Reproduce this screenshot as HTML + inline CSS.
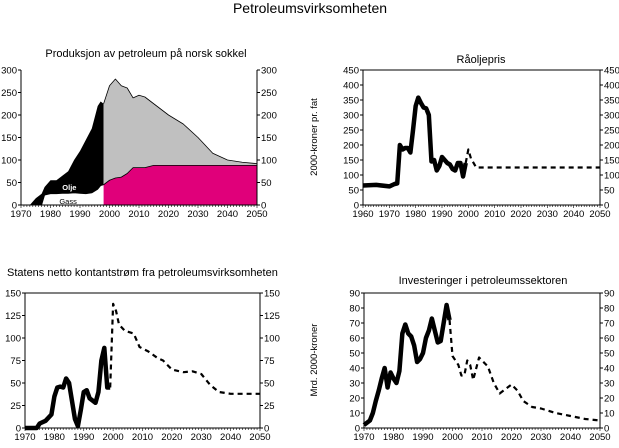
<!DOCTYPE html>
<html><head><meta charset="utf-8"><style>
body{margin:0;background:#fff;width:619px;height:443px;overflow:hidden;font-family:"Liberation Sans",sans-serif}
svg text{font-family:"Liberation Sans",sans-serif}
</style></head><body>
<svg id="s" width="619" height="443">
<text x="310" y="13" font-size="14" text-anchor="middle">Petroleumsvirksomheten</text>
<text x="146" y="57" font-size="11" text-anchor="middle">Produksjon av petroleum på norsk sokkel</text>
<text x="481" y="63" font-size="11" text-anchor="middle">Råoljepris</text>
<text x="7" y="276" font-size="11">Statens netto kontantstrøm fra petroleumsvirksomheten</text>
<text x="483" y="284" font-size="11" text-anchor="middle">Investeringer i petroleumssektoren</text>
<text transform="translate(317,137) rotate(-90)" font-size="9.5" text-anchor="middle">2000-kroner pr. fat</text>
<text transform="translate(317,360) rotate(-90)" font-size="9.5" text-anchor="middle">Mrd. 2000-kroner</text>
</svg>
<script>
// Chart 1 data
const prodHistYears=[1970,1973,1975,1977,1978,1980,1982,1984,1986,1988,1990,1992,1994,1996,1997,1998];
const prodHistTotal=[0,0,15,25,40,55,55,65,75,100,120,145,170,220,230,225];
const prodHistGas=[0,0,0,0,22,25,25,26,26,27,26,25,27,35,43,45];
const prodFutYears=[1998,2000,2002,2004,2006,2008,2010,2012,2015,2020,2025,2030,2035,2040,2045,2050];
const prodFutTotal=[225,265,280,265,260,238,244,240,225,200,180,150,115,100,95,92];
const prodFutGas=[45,55,60,62,70,83,83,83,88,88,88,88,88,88,88,88];
// Chart 2 data
const priceYears=[1960,1965,1970,1972,1973,1974,1975,1976,1977,1978,1979,1980,1981,1982,1983,1984,1985,1986,1987,1988,1989,1990,1991,1992,1993,1994,1995,1996,1997,1998,1999];
const priceVals=[65,67,62,70,72,200,185,190,190,175,250,330,358,340,325,322,300,145,150,115,130,160,150,140,135,120,115,140,140,95,140];
const priceFcYears=[2000,2001,2003,2050];
const priceFcVals=[185,155,125,125];
// Chart 3 data
const cashYears=[1970,1974,1975,1977,1979,1980,1981,1982,1983,1984,1985,1986,1987,1988,1989,1990,1991,1992,1994,1995,1996,1997,1998,1999];
const cashVals=[0,0,5,8,15,35,45,46,45,55,50,30,10,2,20,40,42,33,28,40,75,89,45,45];
const cashFcYears=[1999,2000,2001,2002,2004,2007,2009,2012,2015,2017,2020,2024,2027,2030,2033,2036,2040,2050];
const cashFcVals=[45,138,130,115,108,105,90,85,78,75,65,62,63,60,48,40,38,38];
// Chart 4 data
const invYears=[1970,1972,1973,1974,1975,1976,1977,1978,1979,1980,1981,1982,1983,1984,1985,1986,1987,1988,1989,1990,1991,1992,1993,1994,1995,1996,1997,1998,1999];
const invVals=[2,5,10,18,25,33,40,27,37,33,30,38,63,69,63,61,55,44,46,50,60,65,73,65,57,58,70,82,72];
const invFcYears=[1999,2000,2002,2003,2004,2005,2006,2007,2009,2011,2012,2014,2016,2020,2022,2024,2027,2030,2035,2040,2045,2050];
const invFcVals=[72,48,42,35,35,45,42,32,47,43,41,30,23,29,25,18,14,13,10,8,6,5];

const s=document.getElementById('s');const NS='http://www.w3.org/2000/svg';
function el(t,a,p){const e=document.createElementNS(NS,t);for(const k in a)e.setAttribute(k,a[k]);(p||s).appendChild(e);return e;}
function mk(x0,x1,y0,y1,L,R,T,B){return{x:v=>L+(v-x0)/(x1-x0)*(R-L),y:v=>B-(v-y0)/(y1-y0)*(B-T),L,R,T,B,x0,x1,y1};}
function axes(c,yStep,name,noTop){
 const g=el('g',{});
 
 
 if(noTop){el('polyline',{points:`${c.L},${c.T} ${c.L},${c.B} ${c.R},${c.B} ${c.R},${c.T}`,fill:'none',stroke:'#000'},g);}
 else el('rect',{x:c.L,y:c.T,width:c.R-c.L,height:c.B-c.T,fill:'none',stroke:'#000','stroke-width':1},g);
 for(let v=0;v<=c.y1;v+=yStep){const y=c.y(v);
  el('line',{x1:c.L-3,x2:c.L,y1:y,y2:y,stroke:'#000'},g);el('line',{x1:c.R,x2:c.R+3,y1:y,y2:y,stroke:'#000'},g);
  const t1=el('text',{x:c.L-4,y:y+3.5,'font-size':9.5,'text-anchor':'end'},g);t1.textContent=v;
  const t2=el('text',{x:c.R+4,y:y+3.5,'font-size':9.5},g);t2.textContent=v;}
 for(let yr=c.x0;yr<=c.x1;yr++){const x=c.x(yr);el('line',{x1:x,x2:x,y1:c.B,y2:c.B+(yr%10?2:3),stroke:'#000','stroke-width':0.6},g);
  if(yr%10==0){const t=el('text',{x:x,y:c.B+12,'font-size':9.5,'text-anchor':'middle'},g);t.textContent=yr;}}
}
function pts(c,xs,ys){return xs.map((v,i)=>c.x(v)+','+c.y(ys[i])).join(' ');}
function line(c,xs,ys,dash,w,name){const p=el('polyline',{points:pts(c,xs,ys),fill:'none',stroke:'#000','stroke-width':w,'stroke-dasharray':dash||'none','stroke-linejoin':'round'});
 
 }
function area(c,xs,top,bot,fill,name){const a=xs.map((v,i)=>c.x(v)+','+c.y(top[i]));const b=xs.map((v,i)=>c.x(v)+','+c.y(bot?bot[i]:0)).reverse();
 const p=el('polygon',{points:a.concat(b).join(' '),fill:fill,stroke:'none'});
 
 }

// Chart 1
const c1=mk(1970,2050,0,300,21,257,70,205);
area(c1,prodHistYears,prodHistTotal,prodHistGas,'#000','oil-historical-area');
area(c1,prodFutYears,prodFutTotal,prodFutGas,'#c0c0c0','oil-forecast-area');
area(c1,prodFutYears,prodFutGas,null,'#e0007a','gas-forecast-area');
line(c1,prodFutYears,prodFutTotal,null,0.8,'total-forecast-line');
line(c1,prodFutYears,prodFutGas,null,0.8,'gas-forecast-line');
line(c1,prodHistYears,prodHistGas,null,0.8,'gas-historical-line');
axes(c1,50,'production',true);
let t=el('text',{x:c1.x(1984),y:c1.y(33),'font-size':7.5,fill:'#fff','font-weight':'bold'});t.textContent='Olje';

t=el('text',{x:c1.x(1983),y:c1.y(2),'font-size':7.5});t.textContent='Gass';

// Chart 2
const c2=mk(1960,2050,0,450,363,600,70,205);
axes(c2,50,'oilprice');
line(c2,priceYears,priceVals,null,4.5,'oilprice-historical-line');
line(c2,[1999].concat(priceFcYears),[140].concat(priceFcVals),'5,4',2.2,'oilprice-forecast-line');
// Chart 3
const c3=mk(1970,2050,0,150,25,260,293,428);
axes(c3,25,'cashflow');
line(c3,cashYears,cashVals,null,4.5,'cashflow-historical-line');
line(c3,cashFcYears,cashFcVals,'5,4',2.2,'cashflow-forecast-line');
// Chart 4
const c4=mk(1970,2050,0,90,364,600,293,428);
axes(c4,10,'investment');
line(c4,invYears,invVals,null,4.5,'investment-historical-line');
line(c4,invFcYears,invFcVals,'5,4',2.2,'investment-forecast-line');
</script>
</body></html>
